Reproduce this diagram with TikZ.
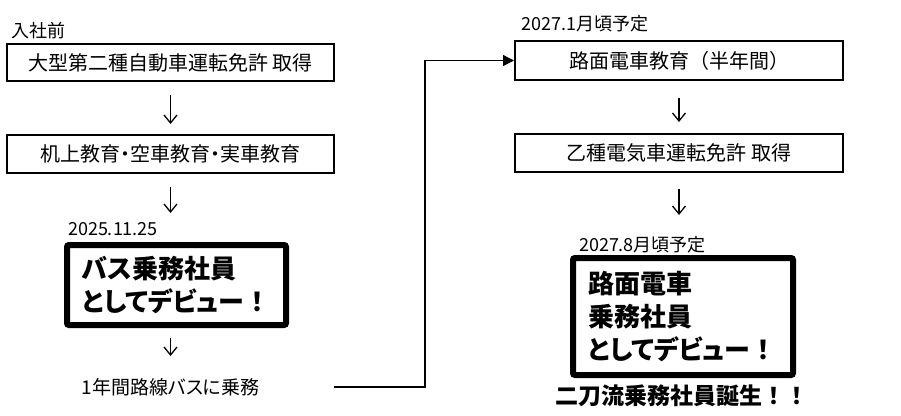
\documentclass[tikz,border=0pt]{standalone}
\usepackage{fontspec}
\setmainfont{Noto Sans CJK JP}[RawFeature=+palt]
\newfontfamily\cjkfull{Noto Sans CJK JP}
\usetikzlibrary{arrows.meta}
\tikzset{
  thinbox/.style={draw, line width=2pt, minimum width=327pt, inner sep=0pt, font=\fontsize{20}{24}\selectfont},
  thickbox/.style={draw, line width=6pt, rounded corners=2pt, inner xsep=15pt, inner ysep=0pt, align=left,
     font=\bfseries\fontsize{26}{33}\selectfont},
  plainlbl/.style={inner sep=0pt, font=\fontsize{18}{20}\selectfont},
  prelbl/.style={inner sep=0pt, font=\cjkfull\fontsize{18}{20}\selectfont},
  downarr/.style={line width=1.3pt, -{Straight Barb[length=8pt,width=13pt]}},
  conn/.style={line width=1.3pt, -{Triangle[length=11pt,width=11pt]}}
}
\begin{document}
\begin{tikzpicture}[x=1pt,y=-1pt]
\useasboundingbox (0,0) rectangle (901,415);
% left column
\node[prelbl, anchor=west] (pre) at (11,31) {入社前};
\node[thinbox, minimum height=37pt] (b1) at (170.5,62.5) {大型第二種自動車運転免許 取得};
\node[thinbox, minimum height=38pt] (b2) at (170.5,154) {机上教育・空車教育・実車教育};
\node[plainlbl] (d1) at (113,229) {2025.11.25};
\node[thickbox, minimum width=219pt, minimum height=80pt, text width=189pt] (b3) at (176.5,285)
  {バス乗務社員\\としてデビュー{\cjkfull ！}};
\node[plainlbl, font=\fontsize{19}{22}\selectfont] (bus) at (170.5,387) {1年間路線バスに乗務};
% right column
\node[plainlbl] (d2) at (585,24) {2027.1月頃予定};
\node[thinbox, minimum width=328pt, minimum height=39pt] (b4) at (679,60.5) {路面電車教育{\cjkfull （半年間）}};
\node[thinbox, minimum width=328pt, minimum height=38pt] (b5) at (679,153) {乙種電気車運転免許 取得};
\node[plainlbl] (d3) at (642.5,245) {2027.8月頃予定};
\node[thickbox, minimum width=220pt, minimum height=117pt, text width=190pt] (b6) at (683,316.5)
  {路面電車\\乗務社員\\としてデビュー{\cjkfull ！}};
\node[inner sep=0pt, font=\cjkfull\bfseries\fontsize{23}{26}\selectfont] (fin) at (682,396) {二刀流乗務社員誕生！！};
% down arrows
\draw[downarr, shorten <=13pt, shorten >=10pt] (b1.south) -- (b2.north);
\draw[downarr, shorten <=13pt, shorten >=29pt] (b2.south) -- (b2.south |- b3.north);
\draw[downarr, shorten <=10pt, shorten >=22pt] (b3.south -| bus) -- (bus);
\draw[downarr, shorten <=17pt, shorten >=11pt] (b4.south) -- (b5.north);
\draw[downarr, shorten <=16pt, shorten >=40pt] (b5.south) -- (b5.south |- b6.north);
% connector
\coordinate (cs) at (334,387);
\coordinate (turn) at (425,387);
\draw[conn] (cs) -- (turn) |- (b4.west);
\end{tikzpicture}
\end{document}
